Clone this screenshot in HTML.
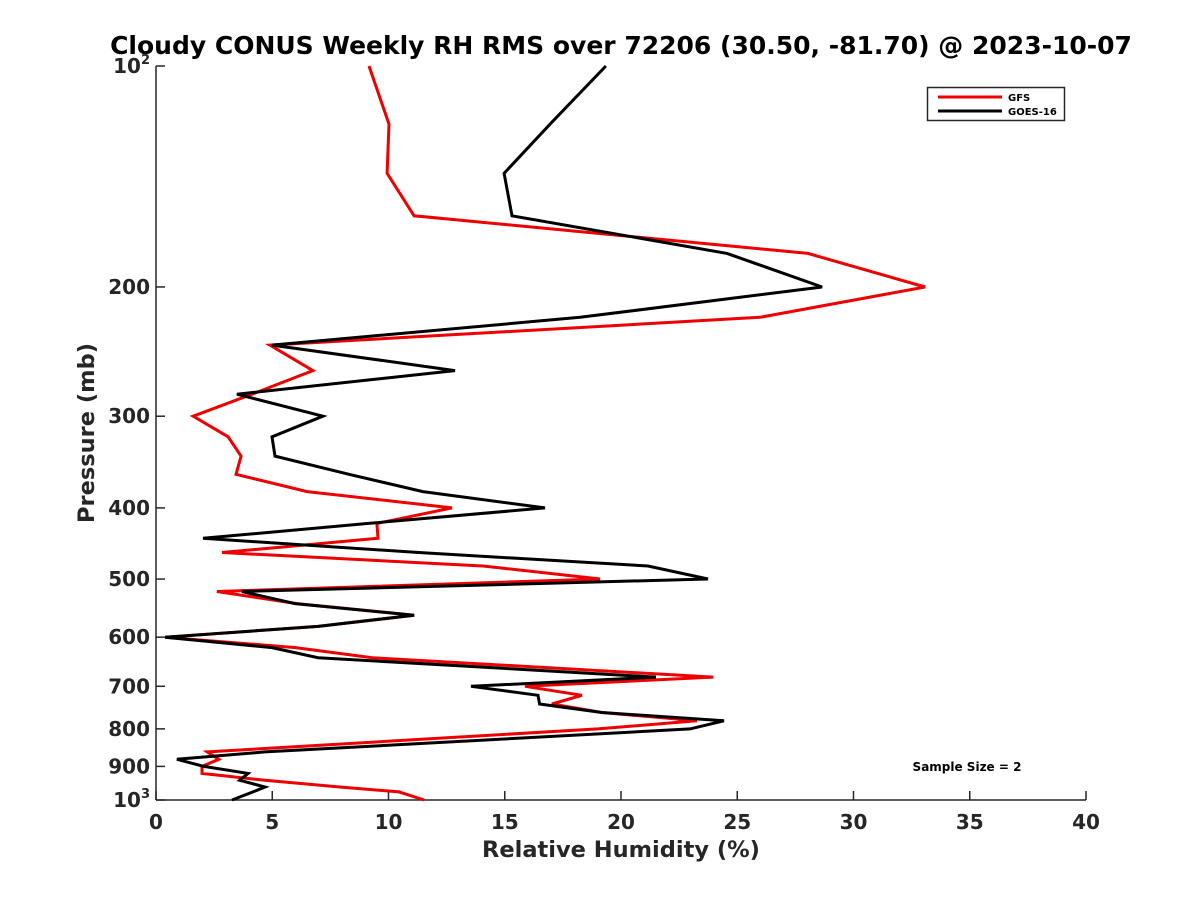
<!DOCTYPE html>
<html><head><meta charset="utf-8"><style>
html,body{margin:0;padding:0;background:#fff;}
svg{display:block;font-family:"DejaVu Sans","Liberation Sans",sans-serif;font-weight:bold;}
</style></head><body>
<svg id="chart" width="1200" height="900" viewBox="0 0 1200 900">
<rect width="1200" height="900" fill="#fff"/>
<text x="621" y="54" text-anchor="middle" font-size="25" fill="#000">Cloudy CONUS Weekly RH RMS over 72206 (30.50, -81.70) @ 2023-10-07</text>
<g id="axes"></g>
<g id="series"></g>
<text x="621" y="857" text-anchor="middle" font-size="22.5" fill="#262626">Relative Humidity (%)</text>
<text transform="translate(94,433) rotate(-90)" text-anchor="middle" font-size="22.5" fill="#262626">Pressure (mb)</text>
<g>
<rect x="927.5" y="87.5" width="137" height="33" fill="#fff" stroke="#262626" stroke-width="1.5"/>
<line x1="938" y1="97" x2="1002" y2="97" stroke="#e00" stroke-width="3"/>
<text x="1008" y="101" font-size="10" fill="#000">GFS</text>
<line x1="938" y1="111" x2="1002" y2="111" stroke="#000" stroke-width="3"/>
<text x="1008" y="115" font-size="10" fill="#000">GOES-16</text>
</g>
<text x="967" y="771" text-anchor="middle" font-size="12" fill="#000">Sample Size = 2</text>
</svg>
<script>
const pressures=[100,120,140,160,180,200,220,240,260,280,300,320,340,360,380,400,420,440,460,480,500,520,540,560,580,600,620,640,680,700,720,740,760,780,800,860,880,900,920,940,960,975,1000];
const gfsValues=[9.16,10.02,9.94,11.1,28.04,33.08,25.98,4.9,6.75,4.13,1.6,3.1,3.66,3.44,6.5,12.73,9.5,9.55,2.84,14.06,19.1,2.62,6.06,11.1,6.97,0.39,6.0,9.3,23.96,15.87,18.32,17.03,19.18,23.27,19.0,2.2,2.7,1.98,1.98,4.69,7.9,10.45,11.53];
const goesValues=[19.35,16.95,14.97,15.31,24.56,28.65,18.24,4.99,12.86,3.48,7.18,4.99,5.12,8.3,11.48,16.73,9.08,2.02,11.3,21.16,23.74,3.7,5.98,11.1,6.97,0.39,4.99,6.97,21.5,13.55,16.43,16.5,19.18,24.43,22.97,4.69,0.9,2.06,3.96,3.6,4.69,4.17,3.27];
const xTicks=[0,5,10,15,20,25,30,35,40];
const yTicks=[100,200,300,400,500,600,700,800,900,1000];
const yTickLabels=["","200","300","400","500","600","700","800","900",""];
const NS="http://www.w3.org/2000/svg";
const X0=156,X1=1086,Y0=66,Y1=800;
const xs=v=>X0+(v/40)*(X1-X0);
const ys=p=>Y0+Math.log10(p/100)*(Y1-Y0);
function mk(tag,at,parent){const e=document.createElementNS(NS,tag);for(const k in at)e.setAttribute(k,at[k]);parent.appendChild(e);return e;}
const axes=document.getElementById('axes');
let a=mk('line',{x1:X0,y1:Y0,x2:X0,y2:Y1,stroke:'#262626','stroke-width':1.5},axes);


a=mk('line',{x1:X0,y1:Y1,x2:X1,y2:Y1,stroke:'#262626','stroke-width':1.5},axes);


xTicks.forEach(v=>{
 const t=mk('line',{x1:xs(v),y1:Y1,x2:xs(v),y2:Y1-9,stroke:'#262626','stroke-width':1.5},axes);
 
 
 const l=mk('text',{x:xs(v),y:Y1+29,'text-anchor':'middle','font-size':20,fill:'#262626'},axes);
 l.textContent=v;
 
 
});
yTicks.forEach((p,i)=>{
 const t=mk('line',{x1:X0,y1:ys(p),x2:X0+9,y2:ys(p),stroke:'#262626','stroke-width':1.5},axes);
 
 
 const l=mk('text',{x:X0-6,y:ys(p)+7,'text-anchor':'end','font-size':20,fill:'#262626'},axes);
 if(yTickLabels[i]){l.textContent=yTickLabels[i];}
 else{l.textContent='10';const s=mk('tspan',{dy:-9,'font-size':13},l);s.textContent=(p===100?'2':'3');}
 
 
});
const ser=document.getElementById('series');
function line(vals,color,name){
 const d=vals.map((v,i)=>(i?'L':'M')+xs(v).toFixed(1)+','+ys(pressures[i]).toFixed(1)).join(' ');
 const p=mk('path',{d:d,fill:'none',stroke:color,'stroke-width':3,'stroke-linejoin':'miter'},ser);
 
 
}
line(gfsValues,'#e00','gfs-line');
line(goesValues,'#000','goes16-line');
</script>
</body></html>
